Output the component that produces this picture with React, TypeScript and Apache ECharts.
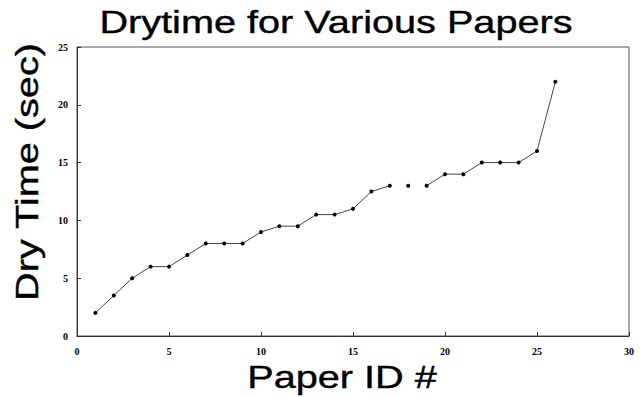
import React, { useEffect, useRef } from "react";
import * as echarts from "echarts";

const paperIds = [1, 2, 3, 4, 5, 6, 7, 8, 9, 10, 11, 12, 13, 14, 15, 16, 17, 18, 19, 20, 21, 22, 23, 24, 25, 26];
const dryTimes = [2, 3.5, 5, 6, 6, 7, 8, 8, 8, 9, 9.5, 9.5, 10.5, 10.5, 11, 12.5, 13, 13, 13, 14, 14, 15, 15, 15, 16, 22];
// the line is broken after these paper IDs
const lineBreaksAfter = [17, 18];

const titleText = "Drytime for Various Papers";
const xName = "Paper ID #";
const yName = "Dry Time (sec)";

function buildSegments() {
  const segs: number[][][] = [];
  let cur: number[][] = [];
  paperIds.forEach((id, i) => {
    cur.push([id, dryTimes[i]]);
    if (lineBreaksAfter.includes(id)) {
      segs.push(cur);
      cur = [];
    }
  });
  if (cur.length) segs.push(cur);
  return segs;
}

export default function App() {
  const ref = useRef<HTMLDivElement>(null);
  useEffect(() => {
    if (!ref.current) return;
    const chart = echarts.init(ref.current, undefined, { renderer: "svg" });
    const labelFont = {
      fontFamily: "Liberation Serif",
      fontWeight: "bold" as const,
      fontSize: 10,
      color: "#000",
    };
    const bigFont = "32px 'Liberation Sans', Arial, sans-serif";
    const bigStyle = {
      font: bigFont,
      fill: "#000",
      stroke: "#000",
      lineWidth: 0.4,
      align: "center",
      verticalAlign: "middle",
      textAlign: "center",
      textVerticalAlign: "middle",
    };
    chart.setOption({
      animation: false,
      backgroundColor: "#fff",
      grid: {
        left: 77,
        right: 15,
        top: 47,
        bottom: 61,
        show: true,
        borderColor: "#555",
        borderWidth: 1,
      },
      xAxis: {
        type: "value",
        min: 0,
        max: 30,
        interval: 5,
        axisLine: { show: true, lineStyle: { color: "#333", width: 1 } },
        axisTick: { show: true, inside: true, length: 4, lineStyle: { color: "#333" } },
        axisLabel: { ...labelFont, margin: 10 },
        splitLine: { show: false },
      },
      yAxis: {
        type: "value",
        min: 0,
        max: 25,
        interval: 5,
        axisLine: { show: true, lineStyle: { color: "#333", width: 1 } },
        axisTick: { show: true, inside: true, length: 4, lineStyle: { color: "#333" } },
        axisLabel: { ...labelFont, margin: 9 },
        splitLine: { show: false },
      },
      graphic: [
        {
          type: "text",
          x: 336,
          y: 22,
          scaleX: 1.24,
          style: { ...bigStyle, text: titleText },
        },
        {
          type: "text",
          x: 342,
          y: 377,
          scaleX: 1.24,
          style: { ...bigStyle, text: xName },
        },
        {
          type: "text",
          x: 27,
          y: 172,
          rotation: Math.PI / 2,
          scaleX: 1.24,
          style: { ...bigStyle, text: yName },
        },
      ],
      series: buildSegments().map((seg) => ({
        type: "line",
        data: seg,
        symbol: "circle",
        symbolSize: 4,
        showSymbol: true,
        itemStyle: { color: "#000" },
        lineStyle: { color: "#444", width: 1 },
        z: 3,
      })),
    });
    return () => chart.dispose();
  }, []);
  return <div ref={ref} style={{ width: 644, height: 397, position: "absolute", left: 0, top: 0 }} />;
}
